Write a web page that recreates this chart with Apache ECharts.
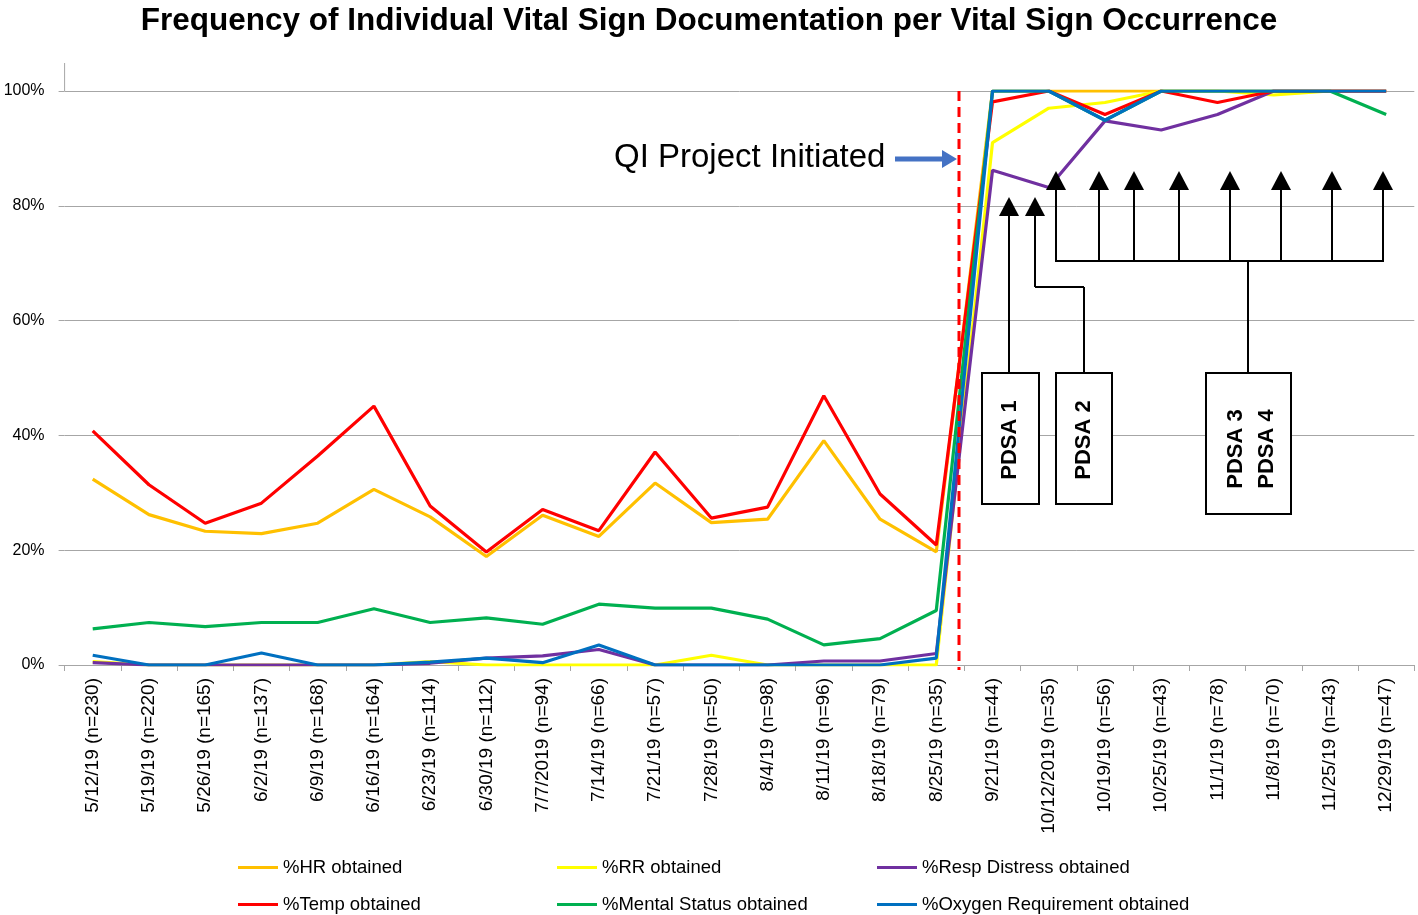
<!DOCTYPE html>
<html>
<head>
<meta charset="utf-8">
<script src="https://cdn.jsdelivr.net/npm/echarts@6/dist/echarts.min.js"></script>
<style>
html,body{margin:0;padding:0;background:#fff;}
#main{width:1418px;height:915px;}
</style>
</head>
<body>
<div id="main"></div>
<script>
var categories = ['5/12/19 (n=230)','5/19/19 (n=220)','5/26/19 (n=165)','6/2/19 (n=137)','6/9/19 (n=168)','6/16/19 (n=164)','6/23/19 (n=114)','6/30/19 (n=112)','7/7/2019 (n=94)','7/14/19 (n=66)','7/21/19 (n=57)','7/28/19 (n=50)','8/4/19 (n=98)','8/11/19 (n=96)','8/18/19 (n=79)','8/25/19 (n=35)','9/21/19 (n=44)','10/12/2019 (n=35)','10/19/19 (n=56)','10/25/19 (n=43)','11/1/19 (n=78)','11/8/19 (n=70)','11/25/19 (n=43)','12/29/19 (n=47)'];
var hrObtained     = [32.4,26.2,23.3,22.9,24.7,30.6,25.8,18.9,26.1,22.4,31.7,24.8,25.4,39.1,25.4,19.7,100,100,100,100,100,100,100,100];
var rrObtained     = [0.6,0,0,0,0,0,0.6,0,0,0,0,1.7,0,0,0,0,91.0,97.0,98.0,100,100,99.3,100,100];
var respObtained   = [0.4,0,0,0,0,0,0.3,1.2,1.6,2.7,0,0,0,0.7,0.7,2.0,86.2,83.2,94.8,93.2,95.9,100,100,100];
var tempObtained   = [40.8,31.4,24.7,28.2,36.4,45.1,27.7,19.7,27.1,23.4,37.1,25.6,27.5,46.9,29.8,20.9,98.1,100,95.9,100,98.0,100,100,100];
var mentalObtained = [6.3,7.4,6.7,7.4,7.4,9.8,7.4,8.2,7.1,10.6,9.9,9.9,8.0,3.5,4.6,9.5,100,100,94.9,100,100,100,100,95.9];
var oxygenObtained = [1.7,0,0,2.1,0,0,0.5,1.2,0.4,3.5,0,0,0,0,0,1.2,100,100,94.9,100,100,100,100,100];
var yTicks = [0,20,40,60,80,100];

var seriesNames = ['%HR obtained','%RR obtained','%Resp Distress obtained','%Temp obtained','%Mental Status obtained','%Oxygen Requirement obtained'];
var seriesData = [hrObtained, rrObtained, respObtained, tempObtained, mentalObtained, oxygenObtained];
var seriesColors = ['#FFC000','#FFFF00','#7030A0','#FF0000','#00B050','#0070C0'];
var legendPos = [[238,858],[557,858],[877,858],[238,895],[557,895],[877,895]];

var FONT = 'Liberation Sans, Arial, sans-serif';
var chart = echarts.init(document.getElementById('main'), null, {renderer:'canvas'});

var series = seriesNames.map(function(n,i){
  return {
    name:n, type:'line', data:seriesData[i], symbol:'none', smooth:false,
    lineStyle:{color:seriesColors[i], width:3.2}, itemStyle:{color:seriesColors[i]},
    emphasis:{disabled:true}, animation:false
  };
});

var legends = seriesNames.map(function(n,i){
  return {
    data:[n], left:legendPos[i][0], top:legendPos[i][1], icon:'rect',
    itemWidth:40, itemHeight:3, itemGap:4, padding:0,
    textStyle:{fontFamily:FONT, fontSize:18.5, color:'#000'}
  };
});

// annotation graphics (pixel layout of the callouts)
var black = '#000';
var g = [];
g.push({type:'line', shape:{x1:64.6,y1:63,x2:64.6,y2:91}, style:{stroke:'#a6a6a6', lineWidth:1}, z:1});
g.push({type:'line', shape:{x1:959,y1:91,x2:959,y2:670}, style:{stroke:'#FF0000', lineWidth:3, lineDash:[10,6]}, z:50});
g.push({type:'text', x:614, y:158, style:{text:'QI Project Initiated', fontFamily:FONT, fontSize:33, fill:'#000', verticalAlign:'middle', align:'left'}, z:50});
g.push({type:'polygon', shape:{points:[[895,156.5],[942,156.5],[942,150],[957,159],[942,168],[942,161.5],[895,161.5]]}, style:{fill:'#4472C4'}, z:50});
function arrow(x, tip){
  g.push({type:'polygon', shape:{points:[[x,tip],[x-10,tip+19],[x+10,tip+19]]}, style:{fill:black}, z:50});
}
function seg(x1,y1,x2,y2){
  g.push({type:'line', shape:{x1:x1,y1:y1,x2:x2,y2:y2}, style:{stroke:black, lineWidth:2}, z:50});
}
// PDSA 1
arrow(1009,197); seg(1009,214,1009,373);
// PDSA 2
arrow(1035,197); seg(1035,214,1035,287); seg(1035,287,1084,287); seg(1084,287,1084,373);
// PDSA 3/4
var upX = [1056,1099,1134,1179,1230,1281,1332,1383];
upX.forEach(function(x){ arrow(x,171); seg(x,188,x,261); });
seg(1055,261,1384,261); seg(1248,261,1248,373);
function box(x,y,w,h){
  g.push({type:'rect', shape:{x:x,y:y,width:w,height:h}, style:{fill:'#fff', stroke:black, lineWidth:2}, z:50});
}
function vtext(t,cx,cy){
  g.push({type:'text', x:cx, y:cy, rotation:Math.PI/2, style:{text:t, fontFamily:FONT, fontWeight:'bold', fontSize:22, fill:'#000', align:'center', verticalAlign:'middle'}, z:51});
}
box(982,373,57,131); vtext('PDSA 1',1010,440);
box(1056,373,56,131); vtext('PDSA 2',1084,440);
box(1206,373,85,141); vtext('PDSA 3',1236,449); vtext('PDSA 4',1267,449);

var option = {
  backgroundColor:'#fff',
  animation:false,
  title:{text:'Frequency of Individual Vital Sign Documentation per Vital Sign Occurrence', left:'center', top:0,
    textStyle:{fontFamily:FONT, fontWeight:'bold', fontSize:31.5, color:'#000'}},
  legend:legends,
  grid:{left:64.6, right:3.7, top:91, bottom:250, containLabel:false},
  xAxis:{type:'category', data:categories, boundaryGap:true,
    axisLine:{lineStyle:{color:'#a6a6a6', width:1}},
    axisTick:{show:true, length:6, lineStyle:{color:'#a6a6a6'}},
    axisLabel:{rotate:90, interval:0, margin:13, fontFamily:FONT, fontSize:19, color:'#000'}},
  yAxis:{type:'value', min:yTicks[0], max:yTicks[yTicks.length-1], interval:20,
    axisLine:{show:false},
    axisTick:{show:true, length:6, lineStyle:{color:'#a6a6a6'}},
    splitLine:{lineStyle:{color:'#a6a6a6', width:1}},
    axisLabel:{formatter:'{value}%', margin:20, fontFamily:FONT, fontSize:16, color:'#000'}},
  series:series,
  graphic:g
};
chart.setOption(option);
</script>
</body>
</html>
